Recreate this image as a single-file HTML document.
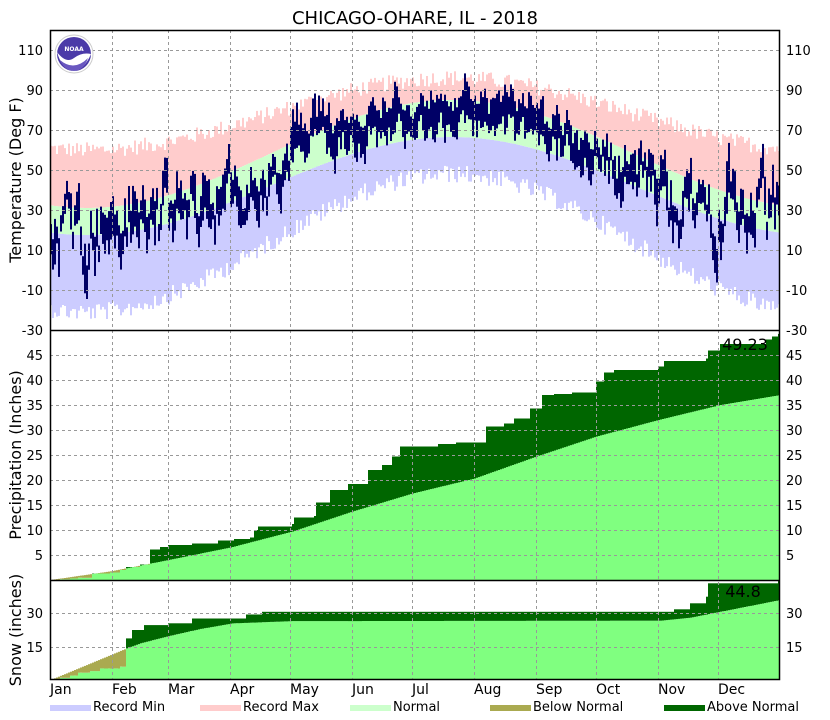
<!DOCTYPE html>
<html><head><meta charset="utf-8"><style>
body{margin:0;background:#fff;}
svg{display:block;font-family:"DejaVu Sans","Liberation Sans",sans-serif;}
</style></head><body>
<svg id="s" width="830" height="720" xmlns="http://www.w3.org/2000/svg"></svg>
<script>
var S=document.getElementById('s');var out=[];
function R(x,y,w,h,c){if(h<0){y+=h;h=-h;}out.push('<rect x="'+x+'" y="'+y.toFixed(1)+'" width="'+w+'" height="'+h.toFixed(1)+'" fill="'+c+'"/>');}
var seed=12345;function rnd(){seed=(seed*1103515245+12345)%2147483648;return seed/2147483648;}
function X(d){return 50+2*d;}
function TY(t){return 330-(t+30)*2;}
function PY(v){return 580-v*5;}
function SY(v){return 680-v*2.222;}
function step(pts,d){var v=0;for(var i=0;i<pts.length;i++){if(pts[i][0]<=d)v=pts[i][1];}return v;}
function lin(pts,d){for(var i=1;i<pts.length;i++){if(d<=pts[i][0]){var a=pts[i-1],b=pts[i];return a[1]+(b[1]-a[1])*(d-a[0])/(b[0]-a[0]);}}return pts[pts.length-1][1];}
var anom=[-4,-2,-3,-9,7,4,2,3,3,-1,-7,2];var ms=[0,31,59,90,120,151,181,212,243,273,304,334,365];
var a=0;
for(var d=0;d<365;d++){
 var c=Math.cos(2*Math.PI*(d-18)/365);
 var nh=58-27*c, nl=42-24.5*c;
 var rmax=nh+20+9*c+(rnd()-0.5)*8, rmin=nl-24-10*c-rnd()*9;
 R(X(d),TY(rmin),2,TY(nl)-TY(rmin),'#ccccff');
 R(X(d),TY(nh),2,TY(rmax)-TY(nh),'#ffcccc');
 R(X(d),TY(nl),2,TY(nh)-TY(nl),'#ccffcc');
}
for(var d=0;d<365;d++){
 var c=Math.cos(2*Math.PI*(d-18)/365);
 var nh=58-27*c, nl=42-24.5*c;
 var m=0;while(ms[m+1]<=d)m++;
 var w=1+0.5*c;
 a=0.6*a+(rnd()-0.5)*20*w;
 var mid=(nh+nl)/2+anom[m]+a;
 var rng=8+rnd()*12+(rnd()<0.12?8:0);
 R(X(d),TY(mid+rng/2),2,rng*2,'#000066');
}
var pa=[[0,0],[5,0.15],[10,0.3],[14,0.45],[21,1.3],[30,1.5],[35,2.0],[38,2.6],[45,3.1],[50,6.1],[55,6.6],[59,7.0],[71,7.3],[84,7.9],[92,8.2],[100,8.5],[102,10],[104,10.7],[121,11.2],[122,12.5],[132,12.8],[133,15.5],[140,18],[149,19.2],[159,22],[166,23],[171,24.7],[175,26.7],[194,27.2],[203,27.5],[218,30.7],[227,31.3],[232,32.3],[240,34.3],[246,37],[252,37.2],[261,37.5],[273,39.7],[277,41.5],[282,42],[304,42.7],[307,43.8],[328,44.3],[329,45.9],[335,47.2],[358,48.1],[361,48.7],[364,49.23]];
var pn=[[0,0],[31,1.8],[59,4],[90,6.5],[121,9.7],[151,13.7],[181,17.3],[212,20.3],[243,24.7],[273,28.7],[304,32],[335,35],[365,37]];
var sa=[[0,0],[5,1],[10,2],[14,3.3],[20,4],[25,5.2],[35,6],[38,18.7],[41,22.5],[47,24.7],[59,25.5],[71,27.7],[98,29.5],[106,30.7],[312,31.8],[320,34.5],[328,37.5],[329,43.5],[364,44.8]];
var sn=[[0,0],[38,14.2],[45,16.5],[58,19.5],[75,23],[91,25.5],[121,26.5],[305,26.7],[320,28],[335,30.7],[365,36]];
function cum(A,N,Y,d){var av=step(A,d),nv=lin(N,d);
 if(av>=nv){R(X(d),Y(nv),2,Y(0)-Y(nv),'#80ff80');R(X(d),Y(av),2,Y(nv)-Y(av),'#006600');}
 else{R(X(d),Y(av),2,Y(0)-Y(av),'#80ff80');R(X(d),Y(nv),2,Y(av)-Y(nv),'#aaaa50');}}
for(var d=0;d<365;d++){cum(pa,pn,PY,d);cum(sa,sn,SY,d);}
var g='stroke="#999" stroke-width="1" stroke-dasharray="3,3"';
for(var i=1;i<12;i++){var x=X(ms[i])+0.5;out.push('<line x1="'+x+'" y1="30" x2="'+x+'" y2="680" '+g+'/>');}
function hl(y){out.push('<line x1="50" y1="'+(y+0.5)+'" x2="780" y2="'+(y+0.5)+'" '+g+'/>');}
function lab(y,t){out.push('<text x="43" y="'+(y+5)+'" font-size="13" text-anchor="end">'+t+'</text><text x="786" y="'+(y+5)+'" font-size="13">'+t+'</text>');}
for(var t=110;t>=-30;t-=20){var y=TY(t);if(t>-30)hl(y);lab(y,t);}
for(var v=5;v<=45;v+=5){var y=PY(v);hl(y);lab(y,v);}
[15,30].forEach(function(v){var y=Math.round(SY(v));hl(y);lab(y,v);});
out.push('<rect x="50.5" y="30.5" width="729" height="649" fill="none" stroke="#000" stroke-width="1.5"/>');
out.push('<line x1="50" y1="330.5" x2="780" y2="330.5" stroke="#000" stroke-width="1.5"/><line x1="50" y1="580.5" x2="780" y2="580.5" stroke="#000" stroke-width="1.5"/>');
out.push('<text x="745" y="350" font-size="16" text-anchor="middle">49.23</text><text x="743" y="597" font-size="16" text-anchor="middle">44.8</text>');
out.push('<text x="415" y="24" font-size="18" text-anchor="middle">CHICAGO-OHARE, IL - 2018</text>');
out.push('<text transform="translate(21,180) rotate(-90)" font-size="16" text-anchor="middle">Temperature (Deg F)</text>');
out.push('<text transform="translate(21,455) rotate(-90)" font-size="16" text-anchor="middle">Precipitation (Inches)</text>');
out.push('<text transform="translate(21,630) rotate(-90)" font-size="16" text-anchor="middle">Snow (inches)</text>');
var mn=['Jan','Feb','Mar','Apr','May','Jun','Jul','Aug','Sep','Oct','Nov','Dec'];
for(var i=0;i<12;i++)out.push('<text x="'+X(ms[i])+'" y="694" font-size="14">'+mn[i]+'</text>');
var lg=[[50,'#ccccff','Record Min'],[200,'#ffcccc','Record Max'],[350,'#ccffcc','Normal'],[490,'#aaaa50','Below Normal'],[664,'#006600','Above Normal']];
lg.forEach(function(l){R(l[0],705,41,6,l[1]);out.push('<text x="'+(l[0]+43)+'" y="711" font-size="13">'+l[2]+'</text>');});
out.push('<circle cx="74" cy="54" r="19" fill="#fff" stroke="#ccc"/><circle cx="74" cy="54" r="17" fill="#4b3aa8"/><path d="M57,52 Q66,64 74,58 Q82,52 91,54 Q84,70 74,71 Q62,70 57,52Z" fill="#fff"/><path d="M60,60 Q74,72 88,58 Q84,70 74,71 Q64,70 60,60Z" fill="#6a58c0"/><text x="74" y="51" font-size="6" fill="#fff" text-anchor="middle" font-weight="bold">NOAA</text>');
S.innerHTML=out.join('');
</script>
</body></html>
